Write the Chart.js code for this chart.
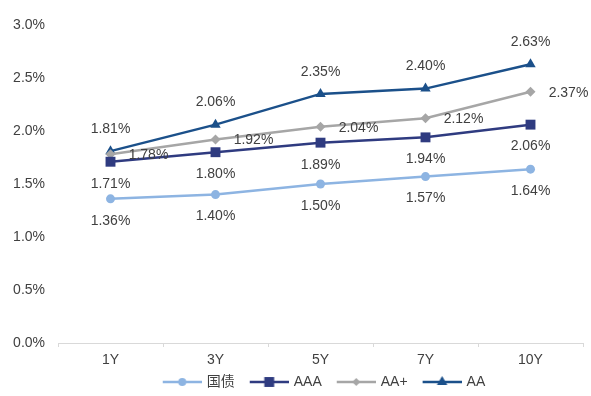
<!DOCTYPE html>
<html>
<head>
<meta charset="utf-8">
<script src="https://cdn.jsdelivr.net/npm/chart.js@4/dist/chart.umd.min.js"></script>
<style>
  html, body { margin: 0; padding: 0; background: #fff; }
  #wrap { width: 591px; height: 396px; }
</style>
</head>
<body>
<div id="wrap"><canvas id="chart" width="591" height="396"></canvas></div>
<script>
// data (percent)
const categories = ['1Y', '3Y', '5Y', '7Y', '10Y'];
const seriesNames = ['国债', 'AAA', 'AA+', 'AA'];
const govt = [1.36, 1.40, 1.50, 1.57, 1.64];
const aaa = [1.71, 1.80, 1.89, 1.94, 2.06];
const aaPlus = [1.78, 1.92, 2.04, 2.12, 2.37];
const aa = [1.81, 2.06, 2.35, 2.40, 2.63];

const FONT = "'Liberation Sans', Arial, 'Noto Sans CJK SC', sans-serif";
const colors = ['#8DB4E2', '#2F3B80', '#A6A6A6', '#1B508A'];
const markers = ['circle', 'rect', 'rectRot', 'triangle'];
const markerSize = [4.5, 7, 5, 6];
// where each series puts its value labels: [dx, dy]
const labelPos = [[0, 22], [0, 22], [38, 1], [0, -22]];

function legendIcon(i) {
    const c = document.createElement('canvas');
    c.width = 48; c.height = 14;
    const g = c.getContext('2d');
    g.strokeStyle = colors[i];
    g.lineWidth = 2.5;
    g.beginPath(); g.moveTo(9, 7); g.lineTo(48, 7); g.stroke();
    g.fillStyle = colors[i];
    const r = markerSize[i];
    const cx = 28.5;
    g.beginPath();
    if (markers[i] === 'circle') { g.arc(cx, 7, r - 0.5, 0, Math.PI * 2); }
    else if (markers[i] === 'rect') { const s = r * Math.SQRT1_2; g.rect(cx - s, 7 - s, 2 * s, 2 * s); }
    else if (markers[i] === 'rectRot') { g.moveTo(cx, 7 - r + 1); g.lineTo(cx + r - 1, 7); g.lineTo(cx, 7 + r - 1); g.lineTo(cx - r + 1, 7); g.closePath(); }
    else { g.moveTo(cx, 7 - r); g.lineTo(cx + r * 0.87, 7 + r * 0.5); g.lineTo(cx - r * 0.87, 7 + r * 0.5); g.closePath(); }
    g.fill();
    return c;
}

const valueLabels = {
    id: 'valueLabels',
    afterDatasetsDraw(chart) {
        const ctx = chart.ctx;
        ctx.save();
        ctx.font = '14px ' + FONT;
        ctx.fillStyle = '#404040';
        ctx.textAlign = 'center';
        ctx.textBaseline = 'middle';
        chart.data.datasets.forEach((ds, i) => {
            chart.getDatasetMeta(i).data.forEach((pt, j) => {
                ctx.fillText(ds.data[j].toFixed(2) + '%', pt.x + labelPos[i][0], pt.y + labelPos[i][1]);
            });
        });
        ctx.restore();
    }
};

const allSeries = [govt, aaa, aaPlus, aa];
const icons = allSeries.map((s, i) => legendIcon(i));

const ctx = document.getElementById('chart').getContext('2d');
const myChart = new Chart(ctx, {
    type: 'line',
    data: {
        labels: categories,
        datasets: allSeries.map((s, i) => ({
            label: seriesNames[i],
            data: s,
            borderColor: colors[i],
            backgroundColor: colors[i],
            borderWidth: 2.5,
            pointStyle: markers[i],
            pointRadius: markerSize[i],
            pointBorderWidth: 0,
            pointHoverRadius: markerSize[i],
            tension: 0
        }))
    },
    options: {
        responsive: false,
        animation: false,
        layout: { padding: { top: 25, right: 8, left: 0, bottom: -3 } },
        scales: {
            x: {
                offset: true,
                grid: { display: true, drawOnChartArea: false, offset: true, tickLength: 4, color: '#D9D9D9' },
                border: { display: true, color: '#D9D9D9', width: 1 },
                ticks: { color: '#404040', font: { family: FONT, size: 14 }, padding: 5 },
                afterFit(scale) { scale.height = 24; }
            },
            y: {
                min: 0,
                max: 3,
                grid: { display: false },
                border: { display: false },
                ticks: {
                    stepSize: 0.5,
                    padding: 5,
                    color: '#404040',
                    font: { family: FONT, size: 14 },
                    callback: v => v.toFixed(1) + '%'
                },
                afterFit(scale) { scale.width = 58; }
            }
        },
        plugins: {
            legend: {
                position: 'bottom',
                fullSize: false,
                labels: {
                    usePointStyle: true,
                    pointStyleWidth: 44,
                    color: '#404040',
                    font: { family: FONT, size: 14 },
                    padding: 8,
                    generateLabels(chart) {
                        return chart.data.datasets.map((ds, i) => ({
                            text: ds.label,
                            pointStyle: icons[i],
                            fillStyle: colors[i],
                            strokeStyle: colors[i],
                            lineWidth: 0,
                            fontColor: '#404040',
                            datasetIndex: i,
                            hidden: false
                        }));
                    }
                }
            },
            tooltip: { enabled: false }
        }
    },
    plugins: [valueLabels]
});
</script>
</body>
</html>
